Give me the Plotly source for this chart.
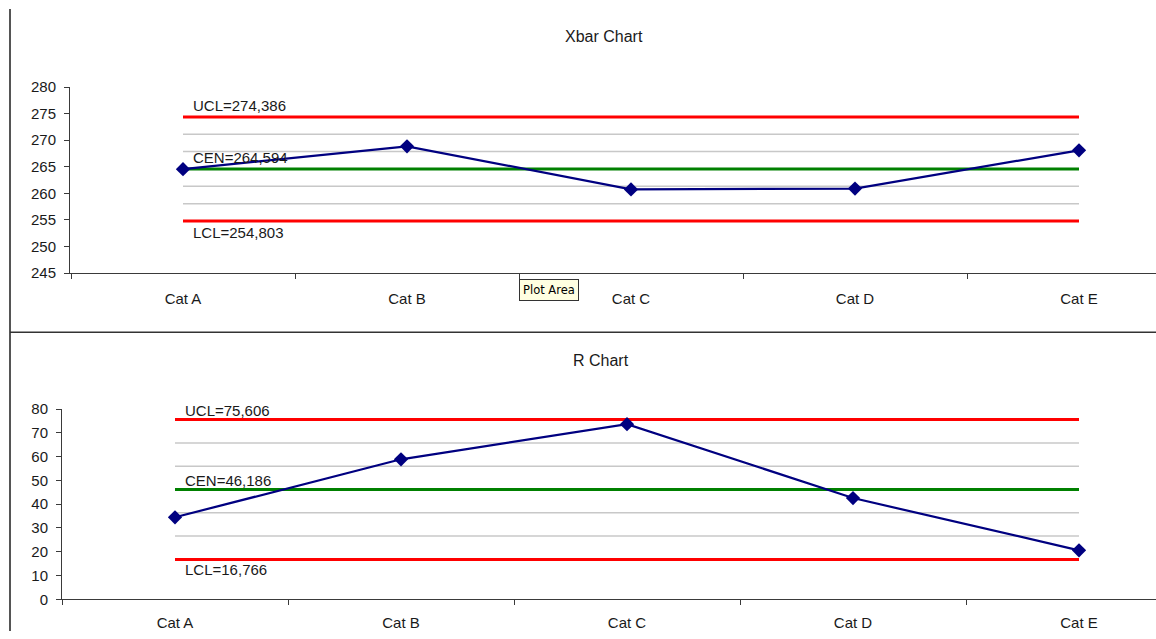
import plotly.graph_objects as go

W, H = 1156, 639

# Categories and subgroup statistics
categories = ["Cat A", "Cat B", "Cat C", "Cat D", "Cat E"]
xbar_values = [264.55, 268.85, 260.75, 260.90, 268.10]
range_values = [34.5, 58.9, 73.7, 42.6, 20.6]

# Control limits (X-bar chart)
xbar_ucl = 274.386
xbar_cen = 264.594
xbar_lcl = 254.803
xbar_zone_lines = [271.122, 267.858, 261.330, 258.066]

# Control limits (R chart)
r_ucl = 75.606
r_cen = 46.186
r_lcl = 16.766
r_zone_lines = [65.799, 55.993, 36.379, 26.573]

FONT = "Liberation Sans, Arial, sans-serif"
NAVY = "#000080"
RED = "#ff0000"
GREEN = "#008000"
ZONE = "#c8c8c8"
AXIS = "#3a3a3a"
TEXT = "#1a1a1a"


def px(x):
    return x / W


def py(y):
    return 1 - y / H


xs = list(range(len(categories)))
first, last = xs[0], xs[-1]

fig = go.Figure()


def add_chart(xa, ya, values, ucl, cen, lcl, zones):
    for z in zones:
        fig.add_trace(go.Scatter(x=[first, last], y=[z, z], mode="lines",
                                 line=dict(color=ZONE, width=1.5),
                                 xaxis=xa, yaxis=ya, hoverinfo="skip"))
    for val, col in ((ucl, RED), (lcl, RED), (cen, GREEN)):
        fig.add_trace(go.Scatter(x=[first, last], y=[val, val], mode="lines",
                                 line=dict(color=col, width=3),
                                 xaxis=xa, yaxis=ya, hoverinfo="skip"))
    fig.add_trace(go.Scatter(x=xs, y=values, mode="lines+markers",
                             line=dict(color=NAVY, width=2.2),
                             marker=dict(symbol="diamond", size=11, color=NAVY),
                             xaxis=xa, yaxis=ya))


add_chart("x", "y", xbar_values, xbar_ucl, xbar_cen, xbar_lcl, xbar_zone_lines)
add_chart("x2", "y2", range_values, r_ucl, r_cen, r_lcl, r_zone_lines)


def fmt(v):
    return f"{v:.3f}".replace(".", ",")


def limit_labels(xref, yref, ucl, cen, lcl, up, down):
    anns = []
    for name, val, shift in (("UCL", ucl, up), ("CEN", cen, up), ("LCL", lcl, -down)):
        anns.append(dict(x=first, y=val, xref=xref, yref=yref,
                         text=f"{name}={fmt(val)}", showarrow=False,
                         xanchor="left", yanchor="middle", xshift=8, yshift=shift,
                         font=dict(family=FONT, size=15, color=TEXT)))
    return anns


annotations = []
annotations += limit_labels("x", "y", xbar_ucl, xbar_cen, xbar_lcl, 11.5, 11.5)
annotations += limit_labels("x2", "y2", r_ucl, r_cen, r_lcl, 9.5, 10)
annotations.append(dict(x=px(604), y=py(28), xref="paper", yref="paper",
                        xanchor="center", yanchor="middle",
                        text="Xbar Chart", showarrow=False,
                        font=dict(family=FONT, size=16, color=TEXT)))
annotations.append(dict(x=px(601), y=py(361), xref="paper", yref="paper",
                        xanchor="center", yanchor="middle",
                        text="R Chart", showarrow=False,
                        font=dict(family=FONT, size=16, color=TEXT)))
annotations.append(dict(x=px(519), y=py(277.5), xref="paper", yref="paper",
                        xanchor="left", yanchor="top",
                        text="Plot Area", showarrow=False,
                        bgcolor="#ffffe1", bordercolor="#333", borderwidth=1,
                        borderpad=3,
                        font=dict(family="DejaVu Sans, sans-serif", size=11.5, color="#000")))

shapes = [
    dict(type="line", xref="paper", yref="paper",
         x0=px(10), x1=px(10), y0=py(0), y1=py(639),
         line=dict(color="#555", width=2)),
    dict(type="line", xref="paper", yref="paper",
         x0=px(10), x1=1, y0=py(332), y1=py(332),
         line=dict(color="#333", width=1.5)),
]


def xaxis_cfg(left_px, cat_a_px, step_px, anchor, standoff):
    lo = (left_px - cat_a_px) / step_px
    hi = (W - cat_a_px) / step_px
    return dict(domain=[px(left_px), 1], range=[lo, hi], anchor=anchor,
                tickmode="array", tickvals=xs, ticktext=categories,
                ticks="", showgrid=False, zeroline=False,
                showline=True, linecolor=AXIS, linewidth=1,
                ticklabelstandoff=standoff,
                minor=dict(tickmode="linear", tick0=0.5, dtick=1,
                           ticks="outside", ticklen=5, tickcolor=AXIS,
                           showgrid=False),
                tickfont=dict(family=FONT, size=15, color=TEXT))


def yaxis_cfg(top_px, bottom_px, rng, dtick, anchor):
    return dict(domain=[py(bottom_px), py(top_px)], range=rng, anchor=anchor,
                dtick=dtick, tick0=rng[0], ticks="outside", ticklen=5,
                tickcolor=AXIS, showgrid=False, zeroline=False,
                showline=True, linecolor=AXIS, linewidth=1,
                ticklabelstandoff=5,
                tickfont=dict(family=FONT, size=15, color=TEXT))


fig.update_layout(
    width=W, height=H,
    margin=dict(l=0, r=0, t=0, b=0),
    paper_bgcolor="white", plot_bgcolor="white",
    showlegend=False,
    xaxis=xaxis_cfg(70, 183, 224, "y", 12),
    yaxis=yaxis_cfg(80.2, 271.3, [245, 280], 5, "x"),
    xaxis2=xaxis_cfg(62, 175, 226, "y2", 10),
    yaxis2=yaxis_cfg(411.1, 606.4, [0, 80], 10, "x2"),
    annotations=annotations,
    shapes=shapes,
)

fig.write_html("out.html")
